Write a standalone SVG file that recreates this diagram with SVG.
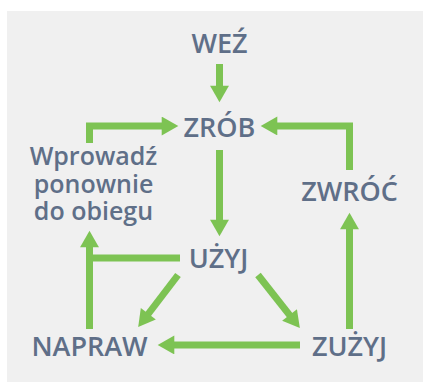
<svg xmlns="http://www.w3.org/2000/svg" width="423" height="382" viewBox="0 0 423 382">
<style>
.t{font-family:"Open Sans","Noto Sans","Liberation Sans",sans-serif;font-weight:600;fill:#5f6f88;text-anchor:middle}
.big{font-size:27px}
.sm{font-size:25px}
.c{fill:none;stroke:#7dc353;stroke-width:7;stroke-linecap:butt;stroke-linejoin:miter}
.a{marker-end:url(#ah)}
</style>
<defs>
<marker id="ah" markerUnits="userSpaceOnUse" markerWidth="20" markerHeight="20" viewBox="0 0 16 18" refX="3" refY="8.5" orient="auto">
<path d="M0,0 L15,8.5 L0,17 z" fill="#7dc353"/>
</marker>
</defs>
<rect x="7" y="11" width="416" height="371" fill="#f0f0f0"/>
<g id="connectors">
<path class="c a" d="M219.5,64 V89"/>
<path class="c a" d="M89.5,143 V126 H165"/>
<path class="c a" d="M349.5,170 V126 H274"/>
<path class="c a" d="M219.5,150 V223"/>
<path class="c" d="M180,258 H89.5"/>
<path class="c a" d="M89.5,329 V244"/>
<path class="c a" d="M178,275 L146.3,316.5"/>
<path class="c a" d="M258,275 L291.6,317.6"/>
<path class="c a" d="M300,345 H171"/>
<path class="c a" d="M349.5,329 V226"/>
</g>
<g id="wez"><text class="t big" x="219.5" y="53">WEŹ</text></g>
<g id="zrob"><text class="t big" x="219.5" y="137">ZRÓB</text></g>
<g id="wprowadz"><text class="t sm" x="93.5" y="165">Wprowadź</text><text class="t sm" x="93.5" y="192.5">ponownie</text><text class="t sm" x="93.5" y="220">do obiegu</text></g>
<g id="zwroc"><text class="t big" x="349.5" y="201">ZWRÓĆ</text></g>
<g id="uzyj"><text class="t big" x="218.5" y="268">UŻYJ</text></g>
<g id="napraw"><text class="t big" x="89.5" y="356">NAPRAW</text></g>
<g id="zuzyj"><text class="t big" x="349.5" y="356">ZUŻYJ</text></g>
</svg>
